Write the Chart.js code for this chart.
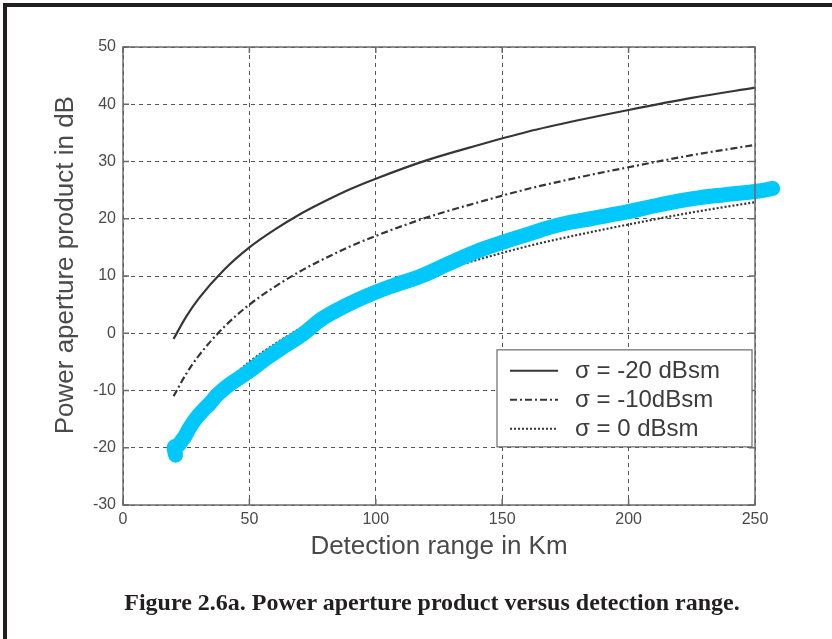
<!DOCTYPE html>
<html>
<head>
<meta charset="utf-8">
<script src="https://cdn.jsdelivr.net/npm/chart.js@4.4.1/dist/chart.umd.min.js"></script>
<style>
  html, body { margin: 0; padding: 0; background: #ffffff; }
  #wrap { position: relative; width: 832px; height: 639px; overflow: hidden; background: #fff; }
  #frame { position: absolute; left: 3px; top: 3px; width: 840px; height: 700px;
           border-top: 4px solid #231f20; border-left: 4px solid #231f20; pointer-events: none; }
  #chartBox { position: absolute; left: 0; top: 0; width: 832px; height: 639px; }
  #caption { position: absolute; left: 16px; top: 587px; width: 832px; text-align: center;
             font-family: "Liberation Serif", "Times New Roman", serif; font-weight: bold;
             font-size: 24px; line-height: 30px; color: #231f20; white-space: nowrap; }
</style>
</head>
<body>
<div id="wrap">
  <div id="chartBox"><canvas id="c" width="832" height="639"></canvas></div>
  <div id="frame"></div>
  <div id="caption">Figure 2.6a. Power aperture product versus detection range.</div>
</div>
<script>
// ---- data ----
const rangeKm   = [20, 25, 30, 40, 50, 60, 70, 80, 90, 100, 120, 140, 160, 180, 200, 225, 250];
const papM20    = [-1.0, 2.9, 6.1, 11.1, 15.0, 18.1, 20.8, 23.1, 25.2, 27.0, 30.2, 32.8, 35.2, 37.2, 39.0, 41.1, 42.9];
const papM10    = [-11.0, -7.1, -3.9, 1.1, 5.0, 8.1, 10.8, 13.1, 15.2, 17.0, 20.2, 22.8, 25.2, 27.2, 29.0, 31.1, 32.9];
const pap0      = [-21.0, -17.1, -13.9, -8.9, -5.0, -1.9, 0.8, 3.1, 5.2, 7.0, 10.2, 12.8, 15.2, 17.2, 19.0, 21.1, 22.9];
const markX     = [20.8, 20.3, 21.8, 23.5, 24.5, 26.5, 29, 31.6, 34.5, 37.2, 42, 49.4, 56, 63.3, 71, 79, 88, 99, 108, 117.5, 129, 141, 151, 161, 168, 176, 185, 192, 199.4, 212, 225.5, 238, 250.8, 257];
const markY     = [-21.3, -19.9, -19.6, -18.6, -18.0, -16.4, -14.8, -13.5, -12.2, -10.8, -9.0, -6.8, -4.6, -2.4, -0.2, 2.6, 4.8, 7.0, 8.5, 9.9, 12.2, 14.5, 16.0, 17.4, 18.4, 19.3, 20.0, 20.6, 21.2, 22.4, 23.5, 24.2, 24.8, 25.3];
const legendLabels = ["\u03c3 = -20 dBsm", "\u03c3 = -10dBsm", "\u03c3 = 0 dBsm"];
const xTicks = [0, 50, 100, 150, 200, 250];
const yTicks = [-30, -20, -10, 0, 10, 20, 30, 40, 50];

const toPts = (xs, ys) => xs.map((x, i) => ({ x: x, y: ys[i] }));
const lineCol = '#363636';

const datasets = [
  { label: 'highlight', data: toPts(markX, markY), borderColor: '#00c8fa', borderWidth: 15,
    borderCapStyle: 'round', borderJoinStyle: 'round', tension: 0.4, pointRadius: 0,
    clip: false, order: 0 },
  { label: legendLabels[0], data: toPts(rangeKm, papM20), borderColor: lineCol, borderWidth: 2.2,
    cubicInterpolationMode: 'monotone', pointRadius: 0, order: 1 },
  { label: legendLabels[1], data: toPts(rangeKm, papM10), borderColor: lineCol, borderWidth: 2.2,
    borderDash: [7, 3, 2, 3], cubicInterpolationMode: 'monotone', pointRadius: 0, order: 2 },
  { label: legendLabels[2], data: toPts(rangeKm, pap0), borderColor: lineCol, borderWidth: 2.2,
    borderDash: [2, 2], cubicInterpolationMode: 'monotone', pointRadius: 0, order: 3 }
];

const boxPlugin = {
  id: 'boxPlugin',
  afterDatasetsDraw(chart) {
    const { ctx, chartArea: a, scales } = chart;
    ctx.save();
    ctx.strokeStyle = '#6a6a6a';
    ctx.lineWidth = 1.5;
    ctx.setLineDash([]);
    ctx.strokeRect(a.left, a.top, a.right - a.left, a.bottom - a.top);
    const tl = 6;
    ctx.beginPath();
    xTicks.forEach(v => {
      const px = scales.x.getPixelForValue(v);
      ctx.moveTo(px, a.top); ctx.lineTo(px, a.top + tl);
      ctx.moveTo(px, a.bottom); ctx.lineTo(px, a.bottom - tl);
    });
    yTicks.forEach(v => {
      const py = scales.y.getPixelForValue(v);
      ctx.moveTo(a.left, py); ctx.lineTo(a.left + tl, py);
      ctx.moveTo(a.right, py); ctx.lineTo(a.right - tl, py);
    });
    ctx.stroke();
    ctx.restore();
  },
  afterDraw(chart) {
    const { ctx, chartArea: a, scales } = chart;
    const bx = a.right - 258, by = scales.y.getPixelForValue(-2.9);
    const bw = 255, bh = 97;
    ctx.save();
    ctx.fillStyle = '#ffffff';
    ctx.fillRect(bx, by, bw, bh);
    ctx.strokeStyle = '#6a6a6a';
    ctx.lineWidth = 1.2;
    ctx.strokeRect(bx, by, bw, bh);
    [1, 2, 3].forEach((di, i) => {
      const ds = chart.data.datasets[di];
      const cy = by + 21 + i * 29;
      ctx.beginPath();
      ctx.setLineDash(ds.borderDash || []);
      ctx.strokeStyle = ds.borderColor;
      ctx.lineWidth = 2;
      ctx.moveTo(bx + 13, cy); ctx.lineTo(bx + 61, cy);
      ctx.stroke();
      ctx.setLineDash([]);
      ctx.fillStyle = '#3c3c3c';
      ctx.font = '24px "Liberation Sans", Arial, sans-serif';
      ctx.textBaseline = 'middle';
      ctx.fillText(ds.label, bx + 78, cy + 1);
    });
    ctx.restore();
  }
};

new Chart(document.getElementById('c'), {
  type: 'line',
  data: { datasets: datasets },
  options: {
    responsive: false,
    animation: false,
    layout: { padding: { left: 39, top: 47, right: 77, bottom: 69 } },
    plugins: { legend: { display: false }, tooltip: { enabled: false } },
    scales: {
      x: {
        type: 'linear', min: 0, max: 250,
        afterBuildTicks: s => { s.ticks = xTicks.map(v => ({ value: v })); },
        afterFit: s => { s.height = 65; },
        ticks: { padding: 5, color: '#4a4a4a', font: { family: '"Liberation Sans", Arial, sans-serif', size: 16 } },
        grid: { color: '#555555', lineWidth: 1, drawTicks: false },
        border: { display: false, dash: [4, 4] },
        title: { display: true, text: 'Detection range in Km', color: '#4a4a4a',
                 font: { family: '"Liberation Sans", Arial, sans-serif', size: 26 }, padding: { top: 0, bottom: 8 } }
      },
      y: {
        type: 'linear', min: -30, max: 50,
        afterBuildTicks: s => { s.ticks = yTicks.map(v => ({ value: v })); },
        afterFit: s => { s.width = 84; },
        ticks: { padding: 7, color: '#4a4a4a', font: { family: '"Liberation Sans", Arial, sans-serif', size: 16 } },
        grid: { color: '#555555', lineWidth: 1, drawTicks: false },
        border: { display: false, dash: [4, 4] },
        title: { display: true, text: '\u00a0\u00a0\u00a0Power aperture product in dB', color: '#4a4a4a',
                 font: { family: '"Liberation Sans", Arial, sans-serif', size: 26 }, padding: { top: 11, bottom: 0 } }
      }
    }
  },
  plugins: [boxPlugin]
});
</script>
</body>
</html>
